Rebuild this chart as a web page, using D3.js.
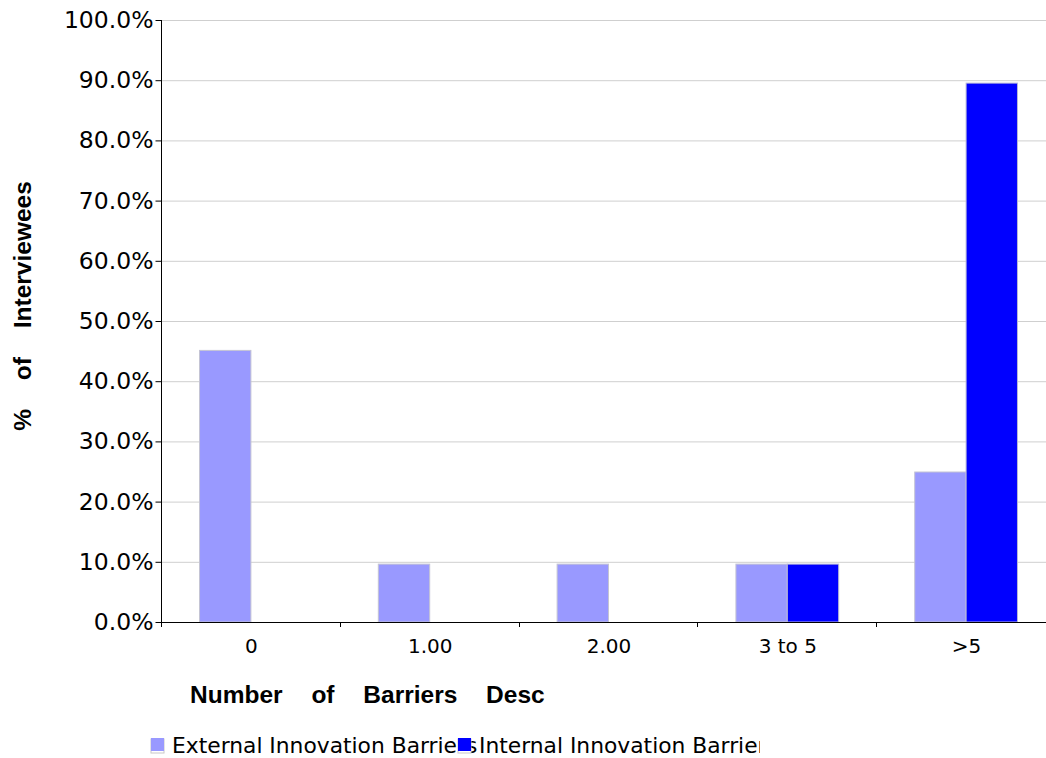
<!DOCTYPE html>
<html>
<head>
<meta charset="utf-8">
<script src="https://cdn.jsdelivr.net/npm/d3@7/dist/d3.min.js"></script>
<style>
  html, body { margin: 0; padding: 0; background: #fff; }
  svg { display: block; }
</style>
</head>
<body>
<svg id="chart" width="1046" height="758"></svg>
<script>
// Share of interviewees by number of innovation barriers described
const categories = ["0", "1.00", "2.00", "3 to 5", ">5"];
const seriesNames = ["External Innovation Barriers", "Internal Innovation Barriers"];
const externalValues = [45.2, 9.7, 9.7, 9.7, 25.0];
const internalValues = [0, 0, 0, 9.7, 89.6];
const yTicks = [0, 10, 20, 30, 40, 50, 60, 70, 80, 90, 100];
const colors = ["#9999ff", "#0000ff"];

const svg = d3.select("#chart");
const margin = { left: 161, top: 20, right: 1055, bottom: 622 };

const rows = categories.map((c, i) => ({ cat: c, values: [externalValues[i], internalValues[i]] }));

const x = d3.scaleBand().domain(categories).range([margin.left, margin.right]).padding(0);
const x1 = d3.scaleBand().domain([0, 1]).range([0, x.bandwidth()]).paddingInner(0).paddingOuter(0.74);
const y = d3.scaleLinear().domain([0, 100]).range([margin.bottom, margin.top]);

// horizontal grid
svg.append("g")
  .selectAll("line")
  .data(yTicks.filter(t => t > 0))
  .join("line")
  .attr("x1", margin.left).attr("x2", 1046)
  .attr("y1", d => y(d) + 0.5).attr("y2", d => y(d) + 0.5)
  .attr("stroke", "#cfcfcf").attr("stroke-width", 1);

// bars
const groups = svg.append("g")
  .selectAll("g")
  .data(rows)
  .join("g")
  .attr("transform", d => `translate(${x(d.cat)},0)`);

groups.selectAll("rect")
  .data(d => d.values.map((v, s) => ({ v, s })).filter(e => e.v > 0))
  .join("rect")
  .attr("x", d => x1(d.s) + 0.5)
  .attr("y", d => y(d.v) + 0.5)
  .attr("width", x1.bandwidth())
  .attr("height", d => y(0) - y(d.v) - 0.5)
  .attr("fill", d => colors[d.s])
  .attr("stroke", d => d.s === 0 ? "#c4c4d4" : "#b8b8d8")
  .attr("stroke-width", 1);

// y axis
const yAxis = svg.append("g")
  .attr("transform", `translate(${margin.left + 0.5},0)`)
  .call(d3.axisLeft(y).tickValues(yTicks).tickSize(6).tickPadding(2)
    .tickFormat(d => d.toFixed(1) + "%"));
yAxis.select(".domain").attr("stroke", "#000").attr("d", `M0,${margin.top}V${margin.bottom}`);
yAxis.selectAll(".tick line").attr("stroke", "#000");
yAxis.selectAll(".tick text")
  .attr("font-family", "'DejaVu Sans', sans-serif")
  .attr("font-size", 23.5)
  .attr("fill", "#000");

// x axis: baseline, boundary ticks and centred labels
const xAxis = svg.append("g");
xAxis.append("line")
  .attr("x1", margin.left).attr("x2", 1046)
  .attr("y1", y(0) + 0.5).attr("y2", y(0) + 0.5)
  .attr("stroke", "#000");
xAxis.selectAll("line.b")
  .data(categories)
  .join("line")
  .attr("class", "b")
  .attr("x1", d => Math.round(x(d)) + 0.5).attr("x2", d => Math.round(x(d)) + 0.5)
  .attr("y1", y(0)).attr("y2", y(0) + 5)
  .attr("stroke", "#000");
xAxis.selectAll("text")
  .data(categories)
  .join("text")
  .attr("x", d => x(d) + x.bandwidth() / 2 + 1)
  .attr("y", 653)
  .attr("text-anchor", "middle")
  .attr("font-family", "'DejaVu Sans', sans-serif")
  .attr("font-size", 20)
  .attr("fill", "#000")
  .text(d => d);

// axis titles
svg.append("text")
  .attr("x", 190).attr("y", 703)
  .attr("font-family", "'Liberation Sans', Arial, sans-serif")
  .attr("font-weight", "bold")
  .attr("font-size", 24.5)
  .attr("word-spacing", 22)
  .attr("fill", "#000")
  .text("Number of Barriers Desc");

svg.append("text")
  .attr("transform", "translate(31,306) rotate(-90)")
  .attr("text-anchor", "middle")
  .attr("font-family", "'Liberation Sans', Arial, sans-serif")
  .attr("font-weight", "bold")
  .attr("font-size", 24.5)
  .attr("word-spacing", 22)
  .attr("fill", "#000")
  .text("% of Interviewees");

// legend
svg.append("defs").append("clipPath").attr("id", "legendClip")
  .append("rect").attr("x", 0).attr("y", 700).attr("width", 760).attr("height", 58);

const legend = svg.append("g").attr("clip-path", "url(#legendClip)");
const legendX = [151, 458];
legend.selectAll("text")
  .data(seriesNames)
  .join("text")
  .attr("x", (d, i) => legendX[i] + 21)
  .attr("y", 753)
  .attr("font-family", "'DejaVu Sans', sans-serif")
  .attr("font-size", 21.8)
  .attr("fill", "#000")
  .text(d => d);

const sw = legend.selectAll("g.sw")
  .data(seriesNames)
  .join("g")
  .attr("class", "sw")
  .attr("transform", (d, i) => `translate(${legendX[i]},738)`);
sw.append("rect")
  .attr("width", 13).attr("height", 14)
  .attr("fill", "#fff").attr("stroke", "#c8c8c8").attr("stroke-width", 1)
  .attr("y", 1);
sw.append("rect")
  .attr("width", 13).attr("height", 13)
  .attr("fill", (d, i) => colors[i]);
</script>
</body>
</html>
